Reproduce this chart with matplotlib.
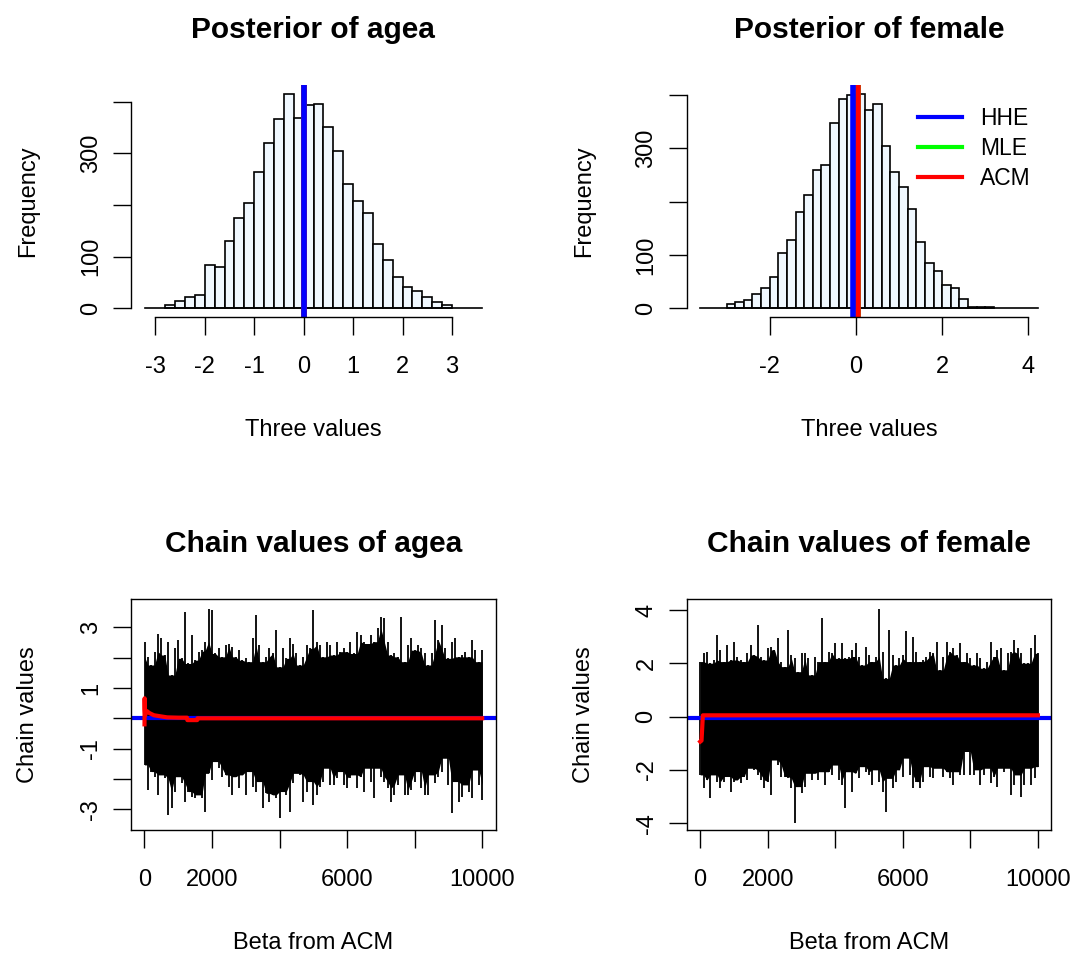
import numpy as np
import matplotlib
matplotlib.use("Agg")
import matplotlib.pyplot as plt

plt.rcParams['font.family'] = ['Liberation Sans', 'DejaVu Sans']

# posterior histograms (bins of width 0.2)
agea_breaks = np.round(np.arange(-2.8, 3.01, 0.2), 1)
agea_counts = [7, 14, 22, 26, 83, 79, 131, 174, 203, 264, 321, 366, 416, 369, 394,
               396, 351, 305, 241, 207, 184, 125, 94, 60, 41, 34, 21, 12, 7]
agea_dens_range = [-3.22, 3.61]

female_breaks = np.round(np.arange(-3.0, 3.21, 0.2), 1)
female_counts = [7, 11, 15, 26, 37, 59, 103, 128, 180, 213, 260, 268, 348, 392, 401, 403,
                 373, 384, 304, 256, 227, 187, 125, 84, 69, 44, 37, 17, 3, 2, 2]
female_dens_range = [-3.61, 4.22]

# point estimates
est_names = ['HHE', 'MLE', 'ACM']
est_colors = ['blue', '#00FF00', 'red']
agea_est = [0.0, 0.0, 0.0]
female_est = [-0.06, 0.05, 0.05]

# chain envelopes (max / min of the draws every 100 iterations)
agea_upper = [2.53, 2.03, 1.76, 2.20, 2.80, 2.64, 2.09, 2.53, 1.43, 2.31, 2.58, 1.98, 3.50,
              1.81, 2.75, 1.92, 2.20, 2.25, 2.53, 3.61, 3.57, 2.14, 2.31, 2.03, 2.42, 2.47,
              2.36, 2.03, 2.25, 1.92, 1.98, 1.87, 2.64, 3.41, 2.42, 1.87, 2.03, 2.31, 2.14,
              2.91, 1.70, 2.31, 1.98, 2.64, 2.47, 2.14, 1.76, 2.03, 2.42, 2.31, 3.57, 2.53,
              2.42, 2.03, 2.53, 2.42, 2.09, 2.53, 2.20, 2.31, 2.20, 2.53, 2.14, 2.86, 2.75,
              2.53, 2.47, 2.75, 2.53, 2.97, 3.35, 3.30, 2.53, 2.09, 2.14, 2.03, 3.35, 1.87,
              2.42, 2.64, 2.25, 2.42, 2.31, 2.14, 1.76, 2.14, 3.24, 2.58, 3.08, 2.31, 1.98,
              2.53, 2.64, 2.03, 2.09, 2.20, 2.03, 2.58, 2.25, 1.87, 2.25]
agea_lower = [-1.54, -2.37, -1.76, -1.93, -2.53, -1.87, -1.98, -3.19, -2.97, -2.42, -1.93,
              -2.15, -2.75, -2.42, -2.59, -2.64, -2.53, -2.64, -3.08, -1.82, -2.04, -1.43,
              -1.65, -1.93, -1.87, -2.26, -2.53, -1.93, -2.31, -1.87, -2.53, -1.76, -2.26,
              -2.42, -2.09, -2.97, -2.48, -2.75, -2.53, -2.64, -3.30, -2.42, -2.53, -3.08,
              -2.15, -1.82, -1.87, -2.75, -2.42, -2.09, -2.86, -2.53,
              -2.26, -2.09, -1.65, -2.20, -2.20, -1.98, -1.76, -2.20, -2.31, -1.98, -1.87,
              -2.31, -1.93, -2.42, -1.65, -2.09, -2.64, -1.65, -1.93, -2.09, -2.31, -2.75,
              -2.53, -2.20, -1.87, -2.53, -2.53, -2.37, -2.09, -1.76, -2.31, -2.53, -2.53,
              -1.87, -2.15, -1.93, -1.76, -1.32, -2.20, -3.14, -2.09, -2.75, -2.59, -2.20,
              -2.42, -2.64, -1.71, -2.20, -2.70]
female_upper = [2.07, 2.38, 2.44, 2.01, 2.13, 3.07, 2.51, 2.07, 2.70, 2.13, 2.82, 2.26, 2.13,
                2.07, 2.38, 2.70, 2.32, 3.45, 2.26, 2.13, 2.57, 2.63, 2.51, 2.95, 2.07, 1.88,
                3.26, 2.32, 2.19, 1.69, 2.38, 2.38, 2.19, 1.57, 2.26, 2.07, 3.70, 2.07, 2.44,
                2.38, 2.76, 2.19, 2.76, 2.19, 2.26, 2.51, 2.76, 2.26, 1.94, 2.63, 2.32, 2.07,
                2.26, 4.05, 2.44, 1.44, 3.26, 2.32, 1.94, 2.19, 2.32, 3.20, 2.07, 3.01, 2.44,
                2.07, 2.13, 2.26, 2.44, 2.38, 2.82, 1.76, 2.26, 2.82, 2.44, 2.57, 2.32, 2.76,
                2.07, 2.38, 2.19, 1.94, 2.38, 2.19, 1.82, 2.07, 2.82, 2.26, 2.51, 2.57, 1.76,
                2.38, 2.44, 2.88, 2.57, 2.38, 2.01, 2.01, 2.57, 3.07, 2.38]
female_lower = [-2.19, -2.69, -2.38, -3.07, -2.19, -2.44, -2.69, -2.44, -2.25, -2.82, -2.44,
                -2.38, -2.50, -2.25, -2.38, -1.94, -2.00, -2.19, -2.38, -2.69, -2.44, -2.94,
                -1.63, -1.82, -2.25, -2.25, -2.32, -2.69, -4.01, -2.63, -2.88, -2.63, -2.13,
                -2.38, -2.13, -2.38, -2.07, -2.57, -2.07, -2.19, -1.82, -2.38, -2.57, -3.45,
                -2.07, -2.82, -2.13, -2.32, -1.88, -2.07, -2.19, -2.57,
                -2.00, -2.44, -2.82, -3.57, -2.32, -2.69, -2.44, -2.00, -2.25, -1.56, -2.19,
                -2.69, -2.44, -2.69, -2.44, -1.88, -2.25, -2.32, -1.94, -1.94, -2.25, -2.07,
                -2.32, -2.57, -2.07, -2.19, -2.19, -1.31, -2.19, -2.19, -2.00, -2.57, -2.19,
                -1.94, -2.50, -2.25, -2.63, -1.94, -2.07, -1.94, -2.94, -2.57, -2.19, -3.01,
                -2.57, -1.94, -2.57, -2.32, -1.88]

# running ACM estimate
acm_agea_iter = [1, 5, 10, 20, 40, 80, 150, 280, 670, 1000, 1260, 1270, 1560, 1570, 10000]
acm_agea = [-0.2, 0.66, 0.3, 0.1, 0.25, 0.23, 0.17, 0.1, 0.03, 0.02, 0.02, -0.06, -0.06, 0.0, 0.0]
acm_female_iter = [1, 40, 80, 10000]
acm_female = [-0.94, -0.90, 0.05, 0.05]

W, H = 1075, 959
fig = plt.figure(figsize=(W / 100, H / 100), dpi=100)

TITLE_FS = 21.5
LAB_FS = 17


def place(left, top, right, bottom):
    return fig.add_axes([left / W, 1 - bottom / H, (right - left) / W, (bottom - top) / H])


def dress(ax, title, xlab, ylab, h, w):
    ax.tick_params(length=13, width=1, labelsize=LAB_FS)
    ax.tick_params(axis='x', pad=15)
    ax.tick_params(axis='y', pad=8, labelrotation=90)
    for t in ax.get_yticklabels():
        t.set_va('center')
    ax.set_title(title, fontsize=TITLE_FS, fontweight='bold', y=1 + 47 / h, pad=0,
                 va='baseline')
    ax.set_xlabel(xlab, fontsize=LAB_FS, va='center')
    ax.xaxis.set_label_coords(0.5, -113 / h)
    ax.set_ylabel(ylab, fontsize=LAB_FS, va='center')
    ax.yaxis.set_label_coords(-103 / w, 0.5)


def hist_panel(ax, breaks, counts, dens_range, est, xticks, title, legend=False):
    widths = np.diff(breaks)
    ax.bar(breaks[:-1], counts, width=widths, align='edge', color='aliceblue',
           edgecolor='black', linewidth=1.2)
    ax.plot(dens_range, [0, 0], color='black', lw=1.2)
    for i in [1, 2, 0]:
        ax.axvline(est[i], color=est_colors[i], lw=4, label=est_names[i])
    span = dens_range[1] - dens_range[0]
    ax.set_xlim(dens_range[0] - 0.04 * span, dens_range[1] + 0.04 * span)
    m = max(counts)
    ax.set_ylim(-0.04 * m, 1.04 * m)
    ax.set_xticks(xticks)
    ax.set_xticklabels([str(v) for v in xticks])
    ax.set_yticks([0, 100, 200, 300, 400])
    ax.set_yticklabels(['0', '100', '', '300', ''])
    for s in ['top', 'right']:
        ax.spines[s].set_visible(False)
    ax.spines['left'].set_bounds(0, 400)
    ax.spines['bottom'].set_bounds(xticks[0], xticks[-1])
    for s in ['left', 'bottom']:
        ax.spines[s].set_linewidth(1)
    dress(ax, title, 'Three values', 'Frequency', 231.7, 364.7)
    if legend:
        handles = [plt.Line2D([], [], color=c, lw=3) for c in est_colors]
        ax.legend(handles, est_names, loc='upper left', bbox_to_anchor=(0.635, 0.903),
                  frameon=False, fontsize=16.5, handlelength=1.9, handletextpad=0.8,
                  labelspacing=0.3, borderpad=0, borderaxespad=0)


def chain_panel(ax, upper, lower, acm_iter, acm, hhe, ylim, yticks, ylabels, title):
    up = np.asarray(upper)
    lo = np.asarray(lower)
    it = np.linspace(1, 10000, len(up))
    # solid core of the trace: smallest excursion among neighbouring draws
    core_up = np.minimum(up, np.minimum(np.r_[up[0], up[:-1]], np.r_[up[1:], up[-1]]))
    core_lo = np.maximum(lo, np.maximum(np.r_[lo[0], lo[:-1]], np.r_[lo[1:], lo[-1]]))
    ax.fill_between(it, core_lo, core_up, color='black', lw=0)
    ax.vlines(it, lo, up, color='black', lw=1.3)
    ax.axhline(hhe, color='blue', lw=3)
    ax.plot(acm_iter, acm, color='red', lw=3)
    ax.set_xlim(1 - 0.04 * 9999, 10000 + 0.04 * 9999)
    ax.set_ylim(ylim)
    ax.set_xticks([0, 2000, 4000, 6000, 8000, 10000])
    ax.set_xticklabels(['0', '2000', '', '6000', '', '10000'])
    ax.set_yticks(yticks)
    ax.set_yticklabels(ylabels)
    for s in ax.spines.values():
        s.set_linewidth(1)
    dress(ax, title, 'Beta from ACM', 'Chain values', 230.7, 364.7)


ax1 = place(131, 85, 495.7, 316.7)
hist_panel(ax1, agea_breaks, agea_counts, agea_dens_range, agea_est,
           [-3, -2, -1, 0, 1, 2, 3], 'Posterior of agea')

ax2 = place(686.7, 85, 1051.4, 316.7)
hist_panel(ax2, female_breaks, female_counts, female_dens_range, female_est,
           [-2, 0, 2, 4], 'Posterior of female', legend=True)

ax3 = place(131, 599.3, 495.7, 830)
chain_panel(ax3, agea_upper, agea_lower, acm_agea_iter, acm_agea, agea_est[0],
            (-3.69, 3.93), [-3, -2, -1, 0, 1, 2, 3], ['-3', '', '-1', '', '1', '', '3'],
            'Chain values of agea')

ax4 = place(686.7, 599.3, 1051.4, 830)
chain_panel(ax4, female_upper, female_lower, acm_female_iter, acm_female, female_est[0],
            (-4.26, 4.41), [-4, -2, 0, 2, 4], ['-4', '-2', '0', '2', '4'],
            'Chain values of female')

fig.savefig('out.png', dpi=100)
